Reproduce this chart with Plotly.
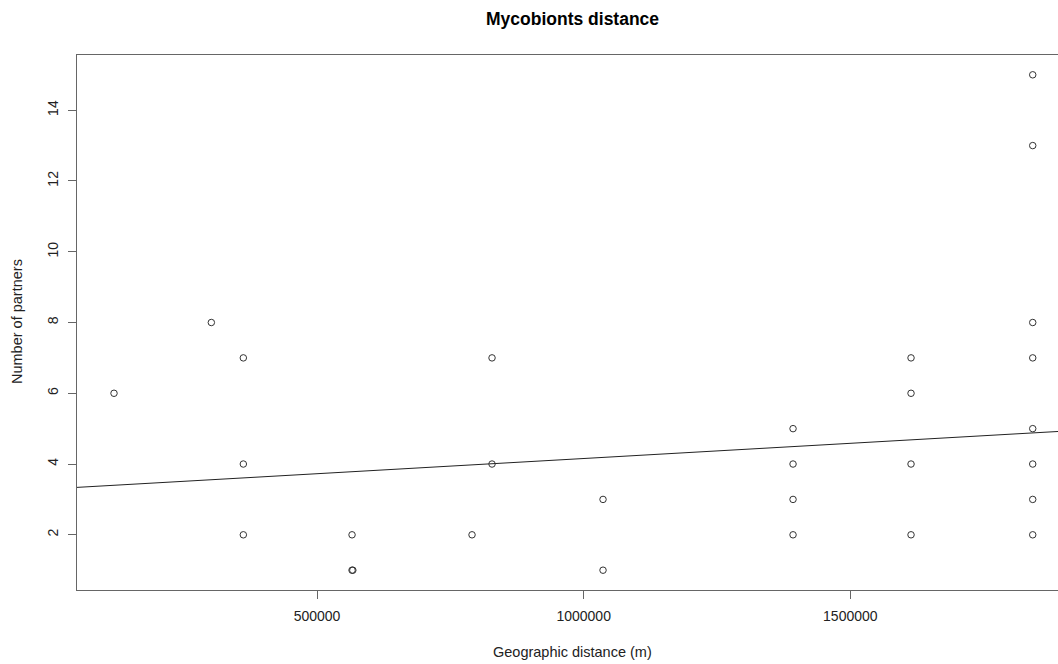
import plotly.graph_objects as go

# Data
distance_m = [119400, 301900, 361900, 361900, 361900,
              565700, 565700, 567200, 790700, 828200, 828200,
              1036300, 1036300,
              1392600, 1392600, 1392600, 1392600,
              1613800, 1613800, 1613800, 1613800,
              1842000, 1842000, 1842000, 1842000, 1842000, 1842000, 1842000, 1842000]
partners = [6, 8, 7, 4, 2,
            2, 1, 1, 2, 7, 4,
            3, 1,
            5, 4, 3, 2,
            7, 6, 4, 2,
            15, 13, 8, 7, 5, 4, 3, 2]

fit_intercept = 3.297
fit_slope = 8.59e-7

x_ticks = [500000, 1000000, 1500000]
y_ticks = [2, 4, 6, 8, 10, 12, 14]

x_range = [50000, 1889400]
y_range = [0.44, 15.56]

W, H = 1058, 664
L, R, T, B = 77, 0, 55, 74

line_x = [x_range[0] - 100000, x_range[1] + 100000]
line_y = [fit_intercept + fit_slope * v for v in line_x]

fig = go.Figure()
fig.add_trace(go.Scatter(x=line_x, y=line_y, mode="lines",
                         line=dict(color="#222222", width=1), hoverinfo="skip"))
fig.add_trace(go.Scatter(x=distance_m, y=partners, mode="markers",
                         marker=dict(symbol="circle-open", size=6.5,
                                     color="#333333", line=dict(width=1))))

font_family = "Liberation Sans, Arial, sans-serif"
axis_color = "#666666"

fig.update_layout(
    width=W, height=H,
    margin=dict(l=L, r=R, t=T, b=B),
    paper_bgcolor="white", plot_bgcolor="white",
    showlegend=False,
    font=dict(family=font_family, size=14, color="#222222"),
    xaxis=dict(range=x_range, tickvals=x_ticks, ticktext=[str(v) for v in x_ticks],
               showgrid=False, zeroline=False,
               showline=True, mirror=True, linecolor=axis_color, linewidth=1,
               ticks="outside", ticklen=8, tickcolor=axis_color, tickwidth=1,
               ticklabelstandoff=5,
               tickfont=dict(size=14, color="#222222")),
    yaxis=dict(range=y_range, tickvals=y_ticks, ticktext=[str(v) for v in y_ticks],
               showgrid=False, zeroline=False,
               showline=True, mirror=False, linecolor=axis_color, linewidth=1,
               ticks="outside", ticklen=8, tickcolor=axis_color, tickwidth=1,
               ticklabelstandoff=4,
               tickangle=-90, tickfont=dict(size=14, color="#222222")),
    annotations=[
        dict(text="<b>Mycobionts distance</b>", xref="paper", yref="paper",
             x=(572 - L) / (W - L - R), y=1 + (T - 19) / (H - T - B),
             xanchor="center", yanchor="middle", showarrow=False,
             font=dict(size=17.5, color="#000000", family=font_family)),
        dict(text="Geographic distance (m)", xref="paper", yref="paper",
             x=(572 - L) / (W - L - R), y=-(652 - (H - B)) / (H - T - B),
             xanchor="center", yanchor="middle", showarrow=False,
             font=dict(size=14.5, color="#222222", family=font_family)),
        dict(text="Number of partners", xref="paper", yref="paper",
             x=(17 - L) / (W - L - R), y=((H - B) - 322) / (H - T - B),
             xanchor="center", yanchor="middle", showarrow=False, textangle=-90,
             font=dict(size=14.5, color="#222222", family=font_family)),
    ],
)

fig.write_html("out.html")
